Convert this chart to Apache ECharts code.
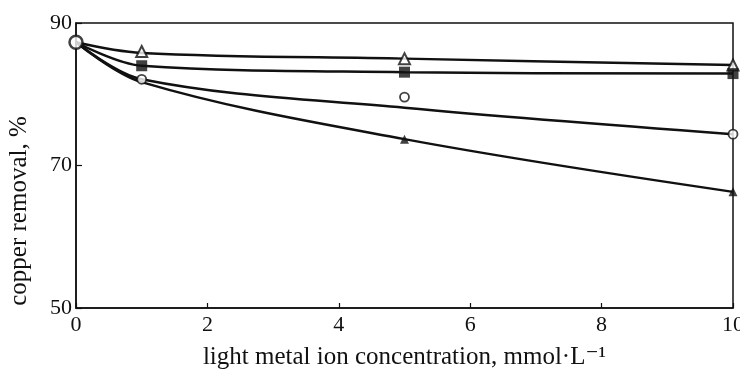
<!DOCTYPE html>
<html>
<head>
<meta charset="utf-8">
<script src="https://cdn.jsdelivr.net/npm/echarts@6/dist/echarts.min.js"></script>
<style>html,body{margin:0;padding:0;background:#fff}#c{width:740px;height:373px}</style>
</head>
<body>
<div id="c"></div>
<script>
// Data
const xTickValues = [0, 2, 4, 6, 8, 10];
const yTickValues = [50, 70, 90];
const xPoints = [0, 1, 5, 10];
// measured markers
const origin = [87.3];
const openTriangle = [86.0, 85.0, 84.1];      // at x = 1, 5, 10
const filledSquare = [84.0, 83.1, 82.9];
const openCircle = [82.1, 79.6, 74.4];
const filledTriangle = [73.7, 66.3];         // at x = 5, 10
const filledTriangleX = [5, 10];
// fitted curves
const fitOpenTriangle = [87.3, 85.8, 85.0, 84.1];
const fitFilledSquare = [87.3, 84.0, 83.1, 82.9];
const fitOpenCircle = [87.3, 82.1, 78.1, 74.4];
const fitFilledTriangle = [87.3, 81.7, 73.7, 66.3];

const xName = 'light metal ion concentration, mmol·L⁻¹';
const yName = 'copper removal, %';

const FONT = '"Liberation Serif", "DejaVu Serif", serif';
const chart = echarts.init(document.getElementById('c'));

function pairs(xs, ys) { return xs.map((x, i) => [x, ys[i]]); }
function fitLine(ys) {
  return { type: 'line', data: pairs(xPoints, ys), smooth: 0.35, symbol: 'none',
    lineStyle: { color: '#111', width: 2.5 }, z: 2, silent: true };
}
const markX = [1, 5, 10];

chart.setOption({
  animation: false,
  backgroundColor: '#fff',
  grid: { left: 76, right: 7, top: 23, bottom: 65, containLabel: false, outerBoundsMode: 'none',
    show: true, borderColor: '#111', borderWidth: 1.5, backgroundColor: 'transparent' },
  xAxis: {
    type: 'value', min: 0, max: 10, interval: 2,
    name: xName, nameLocation: 'middle', nameGap: 37,
    nameTextStyle: { fontFamily: FONT, fontSize: 25, color: '#111' },
    axisLine: { lineStyle: { color: '#111', width: 1.5 } },
    axisTick: { inside: true, length: 5, lineStyle: { color: '#111', width: 1.2 } },
    axisLabel: { fontFamily: FONT, fontSize: 22, color: '#111', margin: 6,
      formatter: v => xTickValues.includes(v) ? String(v) : '' },
    splitLine: { show: false }
  },
  yAxis: {
    type: 'value', min: 50, max: 90, interval: 20,
    name: yName, nameLocation: 'middle', nameGap: 44, nameRotate: 90,
    nameTextStyle: { fontFamily: FONT, fontSize: 25, color: '#111', padding: [0, 91, 0, 0] },
    axisLine: { lineStyle: { color: '#111', width: 1.5 } },
    axisTick: { inside: true, length: 6, lineStyle: { color: '#111', width: 1.2 } },
    axisLabel: { fontFamily: FONT, fontSize: 22, color: '#111', margin: 4,
      formatter: v => yTickValues.includes(v) ? String(v) : '' },
    splitLine: { show: false }
  },
  series: [
    fitLine(fitOpenTriangle),
    fitLine(fitFilledSquare),
    fitLine(fitOpenCircle),
    fitLine(fitFilledTriangle),
    { type: 'scatter', data: pairs(markX, openTriangle), symbol: 'triangle', symbolSize: 11,
      itemStyle: { color: '#fff', borderColor: '#111', borderWidth: 2 }, z: 5 },
    { type: 'scatter', data: pairs(markX, filledSquare), symbol: 'rect', symbolSize: 11,
      itemStyle: { color: '#111' }, z: 5 },
    { type: 'scatter', data: pairs(markX, openCircle), symbol: 'circle', symbolSize: 9,
      itemStyle: { color: '#fff', borderColor: '#111', borderWidth: 1.8 }, z: 5 },
    { type: 'scatter', data: pairs(filledTriangleX, filledTriangle), symbol: 'triangle', symbolSize: 9,
      itemStyle: { color: '#111' }, z: 5 },
    { type: 'scatter', data: [[0, origin[0]]], symbol: 'circle', symbolSize: 13,
      itemStyle: { color: '#fff', borderColor: '#111', borderWidth: 2.5 }, z: 6 }
  ]
});
</script>
</body>
</html>
